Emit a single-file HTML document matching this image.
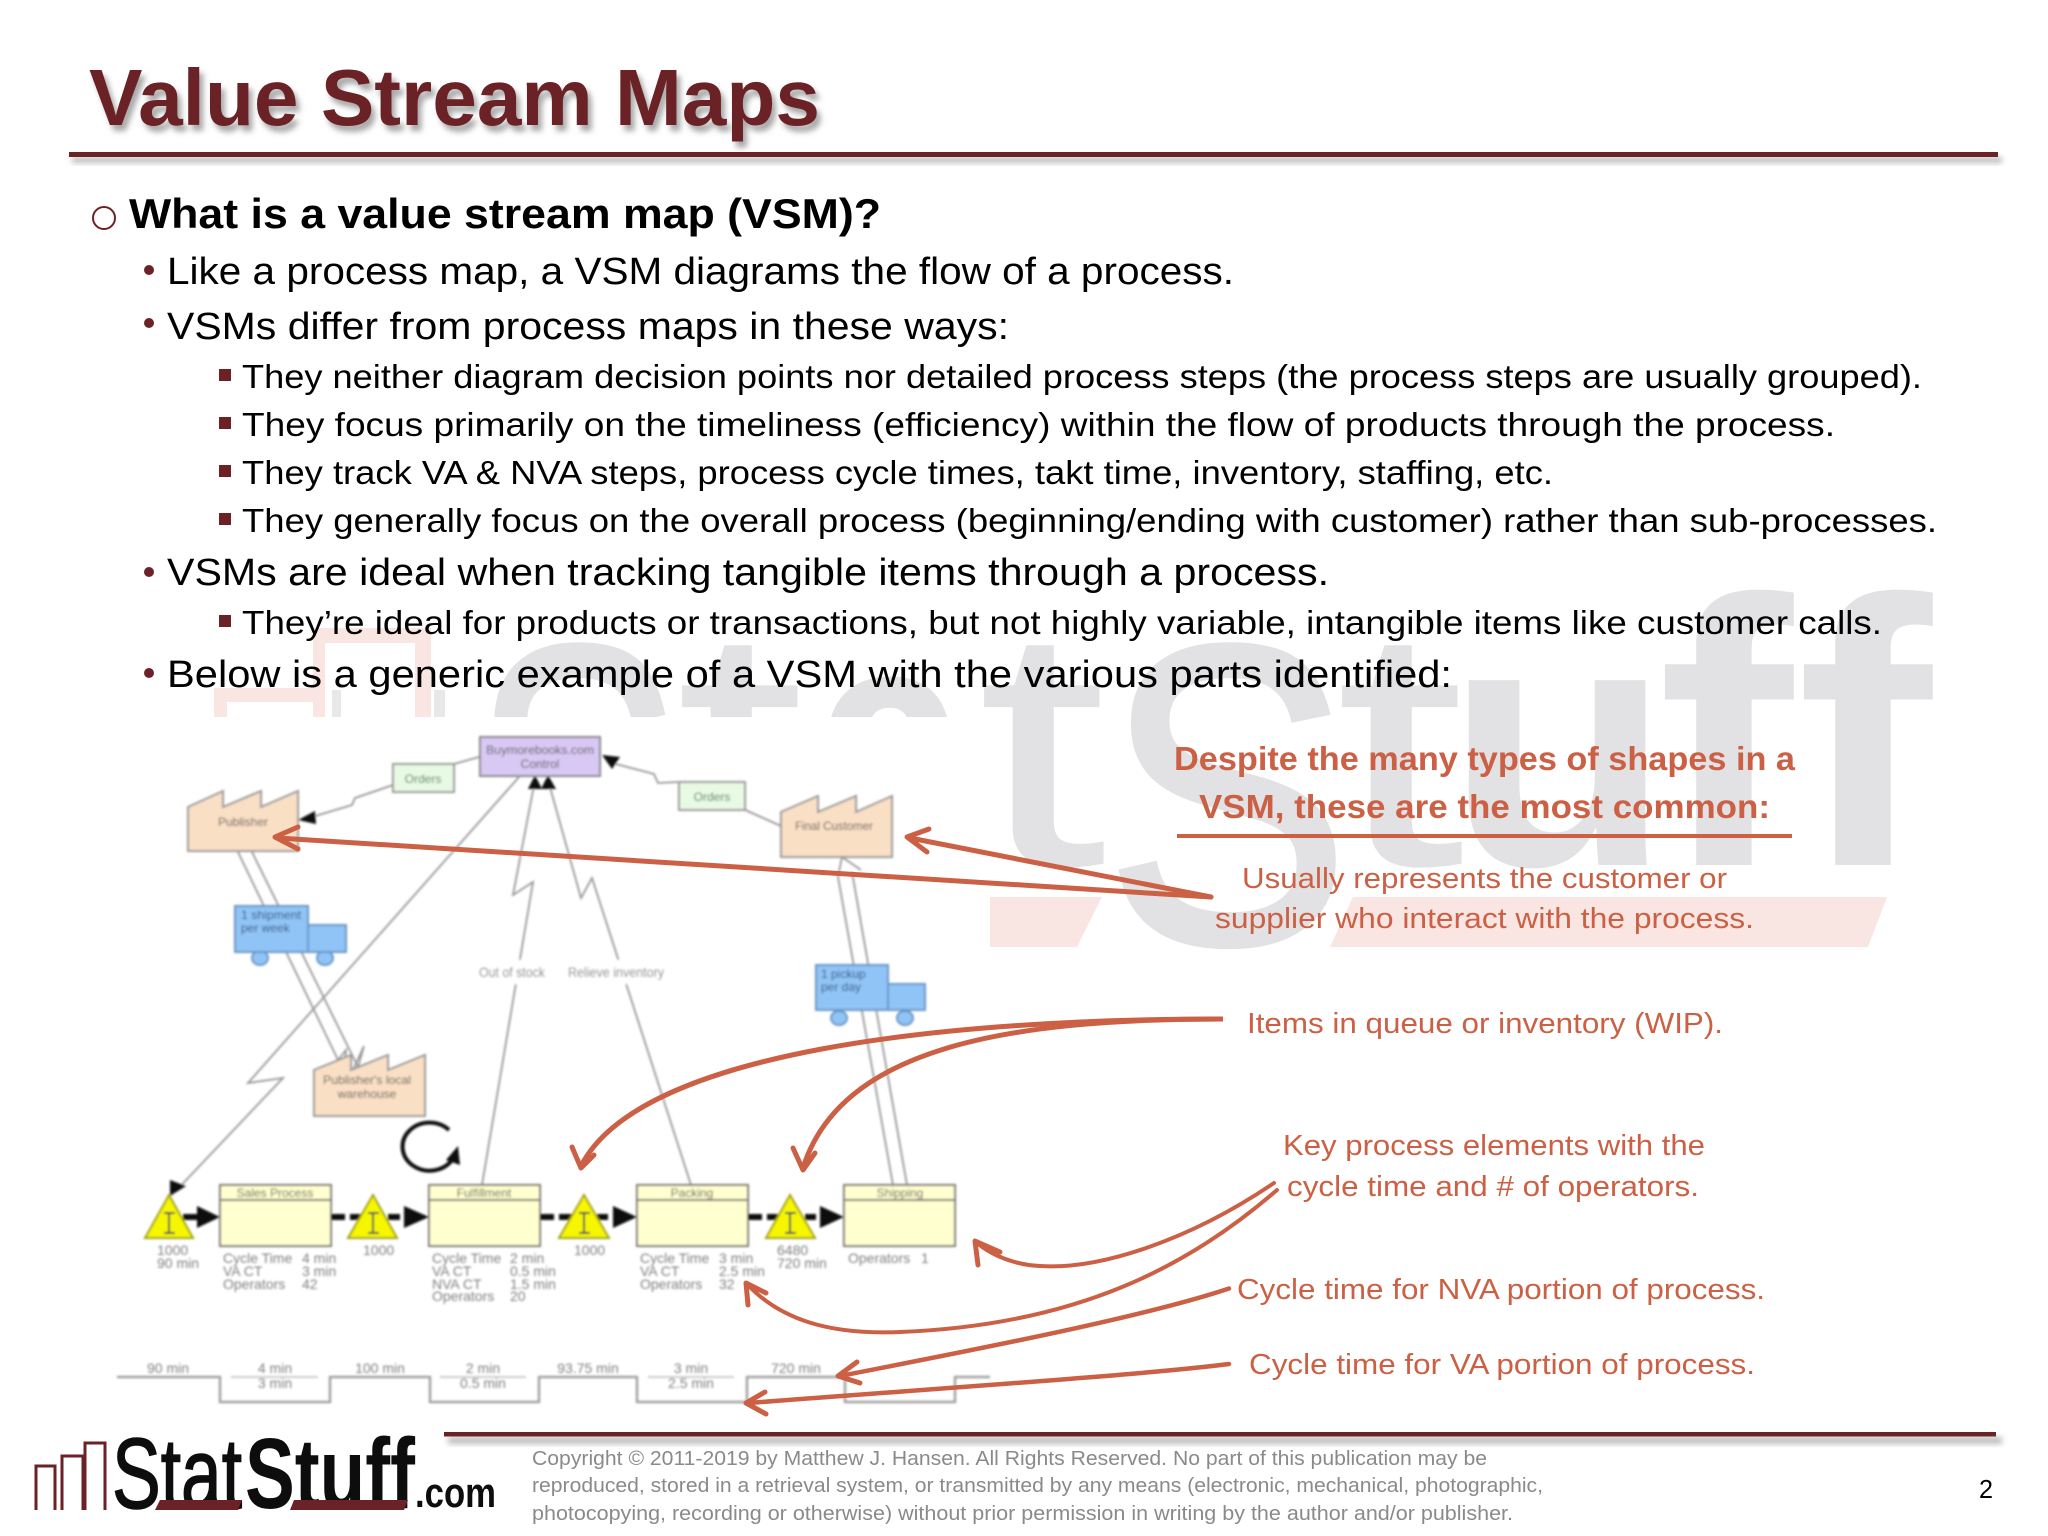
<!DOCTYPE html>
<html><head><meta charset="utf-8"><style>
html,body{margin:0;padding:0;background:#fff}
svg{display:block}
text{font-family:"Liberation Sans",sans-serif}
.t1{font-size:42px;font-weight:bold;fill:#000}
.t2{font-size:38px;fill:#000}
.t3{font-size:33px;fill:#000}
.rh{font-size:33px;font-weight:bold;fill:#cb6044}
.rb{font-size:29px;fill:#cb6044}
.ft{font-size:20px;fill:#8a8a8a}
.d{font-size:14px;fill:#808080}
.dk{font-size:12px;fill:#555}
.wm{font-weight:bold;fill:#e2e2e4}
.wr{fill:#e2e2e4;stroke:#e2e2e4;stroke-width:6px}
.wt{fill:#e2e2e4}
</style></head><body>
<svg width="2048" height="1536" viewBox="0 0 2048 1536" xmlns="http://www.w3.org/2000/svg">
<defs>
<filter id="b1" x="-5%" y="-5%" width="110%" height="110%"><feGaussianBlur stdDeviation="1"/></filter>
<filter id="b2" x="-5%" y="-50%" width="110%" height="200%"><feGaussianBlur stdDeviation="3"/></filter>
<filter id="b3"><feGaussianBlur stdDeviation="0.35"/></filter>
<filter id="b4" x="-5%" y="-10%" width="110%" height="120%"><feGaussianBlur stdDeviation="3"/></filter>
</defs>
<rect width="2048" height="1536" fill="#fff"/>

<!-- watermark -->
<g fill="#f9e5e2">
<polygon points="990,897 1102,897 1077,947 990,947"/>
<polygon points="1353,897 1887,897 1868,947 1330,947"/>
<path d="M214,717V688H313V628H431V717H415V643H325V717H313V702H227V717Z"/>
</g>
<rect x="332" y="690" width="9" height="27" fill="#e8e8e8"/>
<rect x="434" y="690" width="11" height="27" fill="#e8e8e8"/>
<text class="wr" x="472" y="942" font-size="425" textLength="210" lengthAdjust="spacingAndGlyphs">S</text>
<text class="wt" x="675" y="865" font-size="340" textLength="130" lengthAdjust="spacingAndGlyphs">t</text>
<text class="wm" x="813" y="865" font-size="350" textLength="156" lengthAdjust="spacingAndGlyphs">a</text>
<text class="wt" x="977" y="865" font-size="340" textLength="130" lengthAdjust="spacingAndGlyphs">t</text>
<text class="wr" x="1105" y="942" font-size="425" textLength="245" lengthAdjust="spacingAndGlyphs">S</text>
<text class="wt" x="1335" y="865" font-size="340" textLength="130" lengthAdjust="spacingAndGlyphs">t</text>
<text class="wm" x="1446" y="865" font-size="350" textLength="225" lengthAdjust="spacingAndGlyphs">u</text>
<text class="wm" x="1658" y="865" font-size="380" textLength="135" lengthAdjust="spacingAndGlyphs">f</text>
<text class="wm" x="1797" y="865" font-size="380" textLength="135" lengthAdjust="spacingAndGlyphs">f</text>
<rect x="100" y="717" width="890" height="708" fill="#fff"/>

<!-- title -->
<g filter="url(#b3)">
<text x="93" y="131" font-size="80" font-weight="bold" style="fill:#a8a8a8" textLength="731" lengthAdjust="spacingAndGlyphs" filter="url(#b4)">Value Stream Maps</text>
<text x="89" y="125" font-size="80" font-weight="bold" style="fill:#6a2426" textLength="731" lengthAdjust="spacingAndGlyphs">Value Stream Maps</text>
</g>
<rect x="72" y="157" width="1930" height="6" fill="#bbb" filter="url(#b2)"/>
<rect x="69" y="152" width="1929" height="5" fill="#6a2426"/>

<!-- body text -->
<g filter="url(#b3)">
<circle cx="104" cy="218" r="11" fill="none" stroke="#6a2426" stroke-width="2"/>
<text class="t1" x="129" y="228" textLength="752" lengthAdjust="spacingAndGlyphs">What is a value stream map (VSM)?</text>
<g fill="#6a2426">
<circle cx="149" cy="270" r="5"/><circle cx="149" cy="323" r="5"/><circle cx="149" cy="572" r="5"/><circle cx="149" cy="673" r="5"/>
<rect x="219" y="369" width="12" height="12"/><rect x="219" y="417" width="12" height="12"/><rect x="219" y="465" width="12" height="12"/><rect x="219" y="513" width="12" height="12"/><rect x="219" y="615" width="12" height="12"/>
</g>
<text class="t2" x="167" y="284" textLength="1067" lengthAdjust="spacingAndGlyphs">Like a process map, a VSM diagrams the flow of a process.</text>
<text class="t2" x="167" y="339" textLength="842" lengthAdjust="spacingAndGlyphs">VSMs differ from process maps in these ways:</text>
<text class="t3" x="242" y="388" textLength="1680" lengthAdjust="spacingAndGlyphs">They neither diagram decision points nor detailed process steps (the process steps are usually grouped).</text>
<text class="t3" x="242" y="436" textLength="1593" lengthAdjust="spacingAndGlyphs">They focus primarily on the timeliness (efficiency) within the flow of products through the process.</text>
<text class="t3" x="242" y="484" textLength="1311" lengthAdjust="spacingAndGlyphs">They track VA &amp; NVA steps, process cycle times, takt time, inventory, staffing, etc.</text>
<text class="t3" x="242" y="532" textLength="1695" lengthAdjust="spacingAndGlyphs">They generally focus on the overall process (beginning/ending with customer) rather than sub-processes.</text>
<text class="t2" x="167" y="585" textLength="1162" lengthAdjust="spacingAndGlyphs">VSMs are ideal when tracking tangible items through a process.</text>
<text class="t3" x="242" y="634" textLength="1640" lengthAdjust="spacingAndGlyphs">They’re ideal for products or transactions, but not highly variable, intangible items like customer calls.</text>
<text class="t2" x="167" y="687" textLength="1285" lengthAdjust="spacingAndGlyphs">Below is a generic example of a VSM with the various parts identified:</text>
</g>

<!-- VSM diagram -->
<g filter="url(#b1)">
<g fill="none" stroke="#999" stroke-width="1.8">
<path d="M238,852L338,1060L346,1050L344,1072"/>
<path d="M252,852L358,1067L364,1046L352,1072"/>
<path d="M479,757L454,764"/>
<path d="M393,785L355,798L352,805L312,817"/>
<path d="M679,782L658,783L654,774L612,763"/>
<path d="M743,809L781,826"/>
<path d="M519,777L248,1083L283,1078L172,1195"/>
<path d="M535,780L513,895L533,882L482,1185"/>
<path d="M548,780L581,898L592,878L691,1185"/>
<path d="M838,877L842,857L861,870"/>
<path d="M838,877L893,1185"/>
<path d="M852,872L907,1185"/>
</g>
<!-- black heads -->
<g fill="#111">
<polygon points="298,820 315,811 316,824"/>
<polygon points="602,755 620,757 612,769"/>
<polygon points="535,775 528,789 542,789"/>
<polygon points="548,775 541,789 556,789"/>
<polygon points="170,1196 170,1180 186,1186"/>
</g>
<!-- white gaps behind labels -->
<rect x="479" y="960" width="66" height="24" fill="#fff"/>
<rect x="568" y="960" width="96" height="24" fill="#fff"/>
<text class="d" x="479" y="977" textLength="66" lengthAdjust="spacingAndGlyphs">Out of stock</text>
<text class="d" x="568" y="977" textLength="96" lengthAdjust="spacingAndGlyphs">Relieve inventory</text>

<!-- Control -->
<rect x="480" y="737" width="120" height="39" fill="#d9c8f4" stroke="#888" stroke-width="2"/>
<text class="dk" x="540" y="754" text-anchor="middle" textLength="108" lengthAdjust="spacingAndGlyphs">Buymorebooks.com</text>
<text class="dk" x="540" y="768" text-anchor="middle">Control</text>
<!-- Orders -->
<rect x="393" y="764" width="61" height="28" fill="#e8f9e4" stroke="#999" stroke-width="2"/>
<text class="dk" x="423" y="783" text-anchor="middle" style="fill:#4b7a50">Orders</text>
<rect x="679" y="782" width="66" height="28" fill="#e8f9e4" stroke="#999" stroke-width="2"/>
<text class="dk" x="712" y="801" text-anchor="middle" style="fill:#4b7a50">Orders</text>
<!-- factories -->
<g fill="#f9dfc4" stroke="#999" stroke-width="2">
<polygon points="188,807 223,791 223,807 261,791 261,807 298,791 298,851 188,851"/>
<polygon points="781,812 818,796 818,812 856,796 856,812 892,796 892,857 781,857"/>
<polygon points="314,1070 351,1055 351,1070 388,1055 388,1070 425,1055 425,1116 314,1116"/>
</g>
<text class="dk" x="243" y="826" text-anchor="middle">Publisher</text>
<text class="dk" x="834" y="830" text-anchor="middle" textLength="78" lengthAdjust="spacingAndGlyphs">Final Customer</text>
<text class="dk" x="367" y="1084" text-anchor="middle" textLength="88" lengthAdjust="spacingAndGlyphs">Publisher's local</text>
<text class="dk" x="367" y="1098" text-anchor="middle">warehouse</text>
<!-- trucks -->
<g fill="#90c4f6" stroke="#6a97c8" stroke-width="2">
<ellipse cx="260" cy="958" rx="8" ry="7"/><ellipse cx="325" cy="958" rx="8" ry="7"/>
<rect x="235" y="906" width="73" height="46"/><rect x="308" y="925" width="38" height="27"/>
<ellipse cx="839" cy="1018" rx="8" ry="7"/><ellipse cx="905" cy="1018" rx="8" ry="7"/>
<rect x="816" y="965" width="72" height="45"/><rect x="888" y="984" width="37" height="26"/>
</g>
<text class="dk" x="241" y="919" style="fill:#2d4f80" textLength="60" lengthAdjust="spacingAndGlyphs">1 shipment</text>
<text class="dk" x="241" y="932" style="fill:#2d4f80">per week</text>
<text class="dk" x="821" y="978" style="fill:#2d4f80">1 pickup</text>
<text class="dk" x="821" y="991" style="fill:#2d4f80">per day</text>
<!-- kaizen -->
<g>
<path d="M449,1130A27,24 0 1 0 452,1160" fill="none" stroke="#111" stroke-width="4"/>
<polygon points="458,1146 446,1160 460,1165" fill="#111"/>
</g>
<!-- process boxes -->
<g fill="#ffffcf" stroke="#777" stroke-width="2">
<rect x="220" y="1185" width="111" height="61"/><rect x="429" y="1185" width="111" height="61"/><rect x="637" y="1185" width="111" height="61"/><rect x="844" y="1185" width="111" height="61"/>
</g>
<path d="M220,1200H331M429,1200H540M637,1200H748M844,1200H955" stroke="#777" stroke-width="2"/>
<g class="dk" text-anchor="middle">
<text class="dk" x="275" y="1197" text-anchor="middle">Sales Process</text>
<text class="dk" x="484" y="1197" text-anchor="middle">Fulfillment</text>
<text class="dk" x="692" y="1197" text-anchor="middle">Packing</text>
<text class="dk" x="900" y="1197" text-anchor="middle">Shipping</text>
</g>
<!-- push arrows -->
<g stroke="#111" stroke-width="6" stroke-dasharray="14 5" fill="none">
<path d="M183,1217H200M331,1217H400M540,1217H608M748,1217H816"/>
</g>
<g fill="#111">
<polygon points="197,1206 220,1217 197,1228"/>
<polygon points="404,1206 429,1217 404,1228"/>
<polygon points="613,1206 637,1217 613,1228"/>
<polygon points="820,1206 844,1217 820,1228"/>
</g>
<!-- triangles -->
<g fill="#f6f600" stroke="#a3a31e" stroke-width="2">
<polygon points="169,1195 193,1238 145,1238"/>
<polygon points="373,1195 397,1238 348,1238"/>
<polygon points="584,1195 609,1238 559,1238"/>
<polygon points="790,1195 815,1238 766,1238"/>
</g>
<g stroke="#444" stroke-width="2" fill="none">
<path d="M164,1213H175M169,1213V1233M164,1233H175"/>
<path d="M368,1213H379M373,1213V1233M368,1233H379"/>
<path d="M579,1213H590M584,1213V1233M579,1233H590"/>
<path d="M785,1213H796M790,1213V1233M785,1233H796"/>
</g>
<!-- data text -->
<g class="d">
<text class="d" x="157" y="1255">1000</text><text class="d" x="157" y="1268">90 min</text>
<text class="d" x="363" y="1255">1000</text>
<text class="d" x="574" y="1255">1000</text>
<text class="d" x="777" y="1255">6480</text><text class="d" x="777" y="1268">720 min</text>
<text class="d" x="223" y="1263">Cycle Time</text><text class="d" x="302" y="1263">4 min</text>
<text class="d" x="223" y="1276">VA CT</text><text class="d" x="302" y="1276">3 min</text>
<text class="d" x="223" y="1289">Operators</text><text class="d" x="302" y="1289">42</text>
<text class="d" x="432" y="1263">Cycle Time</text><text class="d" x="510" y="1263">2 min</text>
<text class="d" x="432" y="1276">VA CT</text><text class="d" x="510" y="1276">0.5 min</text>
<text class="d" x="432" y="1289">NVA CT</text><text class="d" x="510" y="1289">1.5 min</text>
<text class="d" x="432" y="1301">Operators</text><text class="d" x="510" y="1301">20</text>
<text class="d" x="640" y="1263">Cycle Time</text><text class="d" x="719" y="1263">3 min</text>
<text class="d" x="640" y="1276">VA CT</text><text class="d" x="719" y="1276">2.5 min</text>
<text class="d" x="640" y="1289">Operators</text><text class="d" x="719" y="1289">32</text>
<text class="d" x="848" y="1263">Operators</text><text class="d" x="921" y="1263">1</text>
</g>
<!-- timeline -->
<path d="M117,1377H220V1402H330V1377H430V1402H539V1377H637V1402H747V1377H845V1402H955V1377H990" fill="none" stroke="#a3a3a3" stroke-width="2.5"/>
<path d="M231,1377H318M440,1377H526M648,1377H734" stroke="#ccc" stroke-width="2"/>
<g text-anchor="middle">
<text class="d" x="168" y="1373" text-anchor="middle">90 min</text>
<text class="d" x="275" y="1373" text-anchor="middle">4 min</text><text class="d" x="275" y="1388" text-anchor="middle">3 min</text>
<text class="d" x="380" y="1373" text-anchor="middle">100 min</text>
<text class="d" x="483" y="1373" text-anchor="middle">2 min</text><text class="d" x="483" y="1388" text-anchor="middle">0.5 min</text>
<text class="d" x="588" y="1373" text-anchor="middle">93.75 min</text>
<text class="d" x="691" y="1373" text-anchor="middle">3 min</text><text class="d" x="691" y="1388" text-anchor="middle">2.5 min</text>
<text class="d" x="796" y="1373" text-anchor="middle">720 min</text>
</g>
</g>

<!-- red annotations -->
<g fill="none" stroke="#cb6044" stroke-width="5" stroke-linecap="round" stroke-linejoin="round">
<path d="M1211,897L278,838"/>
<path d="M298,827L275,837L298,849"/>
<path d="M1211,897L910,838"/>
<path d="M929,829L907,837L927,852"/>
<path d="M1223,1019C950,1019 640,1050 581,1166" stroke-linecap="butt"/>
<path d="M572,1147L581,1168L594,1155"/>
<path d="M1223,1019C1000,1019 840,1050 803,1168" stroke-linecap="butt"/>
<path d="M793,1148L803,1170L815,1153"/>
<path d="M1274,1183C1190,1240 1100,1270 1040,1266C1015,1265 990,1255 975,1241" stroke-width="4"/>
<path d="M978,1265L975,1241L1000,1252"/>
<path d="M1277,1190C1190,1265 1080,1325 900,1332C830,1335 780,1320 746,1283" stroke-width="4"/>
<path d="M748,1305L746,1283L766,1293"/>
<path d="M1229,1288.5C1150,1315 1000,1345 840,1376" stroke-width="4.5"/>
<path d="M857,1362L838,1376L860,1383"/>
<path d="M1229,1364C1150,1374 1000,1384 748,1403" stroke-width="4.5"/>
<path d="M765,1392L746,1403L766,1414"/>
</g>
<g filter="url(#b3)">
<text class="rh" x="1174" y="770" textLength="621" lengthAdjust="spacingAndGlyphs">Despite the many types of shapes in a</text>
<text class="rh" x="1199" y="818" textLength="571" lengthAdjust="spacingAndGlyphs">VSM, these are the most common:</text>
<rect x="1177" y="834" width="615" height="4" fill="#cb6044"/>
<text class="rb" x="1242" y="888" textLength="485" lengthAdjust="spacingAndGlyphs">Usually represents the customer or</text>
<text class="rb" x="1215" y="928" textLength="539" lengthAdjust="spacingAndGlyphs">supplier who interact with the process.</text>
<text class="rb" x="1247" y="1033" textLength="476" lengthAdjust="spacingAndGlyphs">Items in queue or inventory (WIP).</text>
<text class="rb" x="1283" y="1155" textLength="422" lengthAdjust="spacingAndGlyphs">Key process elements with the</text>
<text class="rb" x="1287" y="1196" textLength="412" lengthAdjust="spacingAndGlyphs">cycle time and # of operators.</text>
<text class="rb" x="1237" y="1299" textLength="528" lengthAdjust="spacingAndGlyphs">Cycle time for NVA portion of process.</text>
<text class="rb" x="1249" y="1374" textLength="506" lengthAdjust="spacingAndGlyphs">Cycle time for VA portion of process.</text>
</g>

<!-- footer -->
<rect x="448" y="1437" width="1554" height="7" fill="#bbb" filter="url(#b2)"/>
<rect x="444" y="1432" width="1552" height="4.5" fill="#6a2426"/>
<g filter="url(#b3)">
<text class="ft" x="532" y="1465" textLength="955" lengthAdjust="spacingAndGlyphs">Copyright © 2011-2019 by Matthew  J. Hansen.  All Rights Reserved.  No part of this publication may be</text>
<text class="ft" x="532" y="1492" textLength="1011" lengthAdjust="spacingAndGlyphs">reproduced, stored in a retrieval system, or transmitted by any means  (electronic, mechanical, photographic,</text>
<text class="ft" x="532" y="1520" textLength="981" lengthAdjust="spacingAndGlyphs">photocopying, recording or otherwise) without prior permission in writing by the author and/or publisher.</text>
<text x="1979" y="1498" font-size="26" style="fill:#000" textLength="14" lengthAdjust="spacingAndGlyphs">2</text>
<!-- logo -->
<g fill="none" stroke="#6a2426" stroke-width="3">
<path d="M36,1510V1466H55V1510"/>
<path d="M62,1510V1456H83V1510"/>
<path d="M85,1510V1443H105V1510"/>
</g>
<text x="112" y="1508" font-size="100" style="fill:#111;stroke:#111;stroke-width:1.5px" textLength="130" lengthAdjust="spacingAndGlyphs">Stat</text>
<text x="245" y="1508" font-size="100" font-weight="bold" style="fill:#111" textLength="170" lengthAdjust="spacingAndGlyphs">Stuff</text>
<text x="415" y="1507" font-size="42" font-weight="bold" style="fill:#111" textLength="81" lengthAdjust="spacingAndGlyphs">.com</text>
<polygon points="160,1500 242,1500 238,1510 155,1510" fill="#6a2426"/>
<polygon points="294,1500 408,1500 404,1510 290,1510" fill="#6a2426"/>
</g>
</svg>
</body></html>
